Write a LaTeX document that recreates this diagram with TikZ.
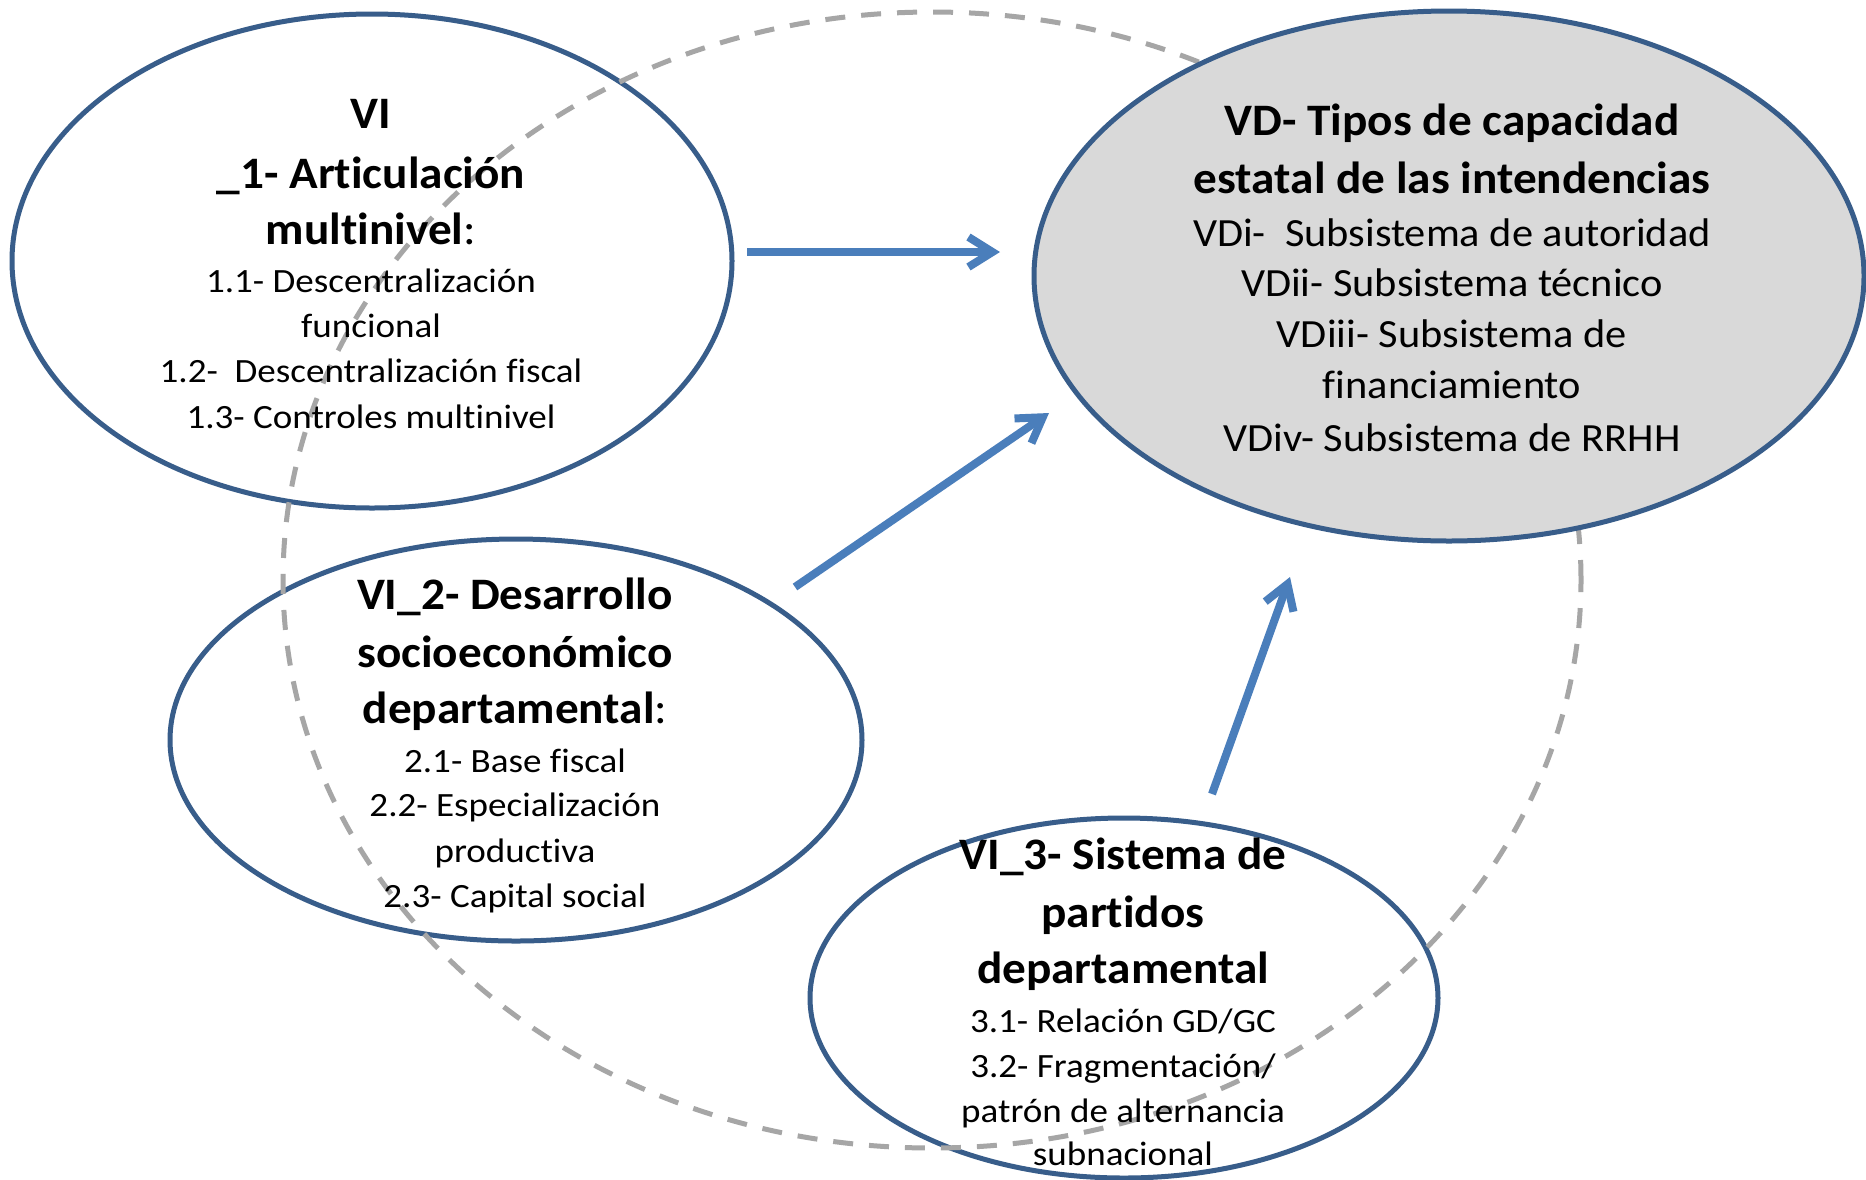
\documentclass[tikz,border=0pt]{standalone}
\usepackage{fontspec}
\setmainfont{Carlito}[Ligatures=NoCommon]
\newfontfamily\hdfont{Carlito}[FakeStretch=1.05, Ligatures=NoCommon]
\newfontfamily\rgfont{Carlito}[FakeStretch=1.09, Ligatures=NoCommon]
\newfontfamily\rgvfont{Carlito}[FakeStretch=1.06, Ligatures=NoCommon]
\usetikzlibrary{arrows.meta,shapes.geometric}
\definecolor{edgec}{HTML}{385D8A}
\definecolor{arrc}{HTML}{4A7EBB}
\definecolor{dashc}{HTML}{A6A6A6}
\definecolor{vdfill}{HTML}{D9D9D9}
\begin{document}
\begin{tikzpicture}[x=1pt,y=-1pt,
  oval/.style={ellipse, draw=edgec, line width=5pt, inner sep=0pt, outer sep=0pt},
  bigoval/.style={ellipse, draw=dashc, line width=5pt, dash pattern=on 20pt off 16pt, inner sep=0pt, outer sep=0pt},
  hd/.style={font=\hdfont\fontsize{45}{57}\selectfont\bfseries, anchor=base, inner sep=0pt},
  rg/.style={font=\rgfont\fontsize{34}{45}\selectfont, anchor=base, inner sep=0pt},
  rgv/.style={font=\rgvfont\fontsize{40}{51}\selectfont, anchor=base, inner sep=0pt},
  arrow/.style={draw=arrc, line width=8pt, -{Straight Barb[length=24pt,width=30pt]}}]
\useasboundingbox (0,0) rectangle (1866,1179);
\fill[white] (0,0) rectangle (1866,1179);
% ellipses
\node[oval, fill=white, minimum width=720pt, minimum height=494pt] (e1) at (372,261) {};
\node[oval, fill=white, minimum width=692pt, minimum height=402pt] (e2) at (516,740) {};
\node[oval, fill=white, minimum width=628pt, minimum height=360pt] (e3) at (1124,998) {};
\node[bigoval, minimum width=1298pt, minimum height=1136pt] (big) at (932,580) {};
\node[oval, fill=vdfill, minimum width=830pt, minimum height=530pt] (vd) at (1449,276) {};
% arrows
\coordinate (a1s) at (747,252);
\coordinate (a1e) at (1000,252);
\coordinate (a2s) at (795,587);
\coordinate (a2e) at (1049,413);
\coordinate (a3s) at (1212,794);
\coordinate (a3e) at (1290,577);
\draw[arrow] (a1s) -- (a1e);
\draw[arrow] (a2s) -- (a2e);
\draw[arrow] (a3s) -- (a3e);
% texts ellipse 1
\node[hd] (t1a) at (371,128) {VI};
\node[hd] (t1b) at (371,188) {\_1- Articulación};
\node[hd] (t1c) at (371,244) {multinivel{\mdseries:}};
\node[rg] (t1d) at (371,292) {1.1- Descentralización};
\node[rg] (t1e) at (371,337) {funcional};
\node[rg] (t1f) at (371,382) {1.2-\ \ Descentralización fiscal};
\node[rg] (t1g) at (371,428) {1.3- Controles multinivel};
% texts VD
\node[hd] (tva) at (1452,135) {VD- Tipos de capacidad};
\node[hd] (tvb) at (1452,193) {estatal de las intendencias};
\node[rgv] (tvc) at (1452,246) {VDi-\ \ Subsistema de autoridad};
\node[rgv] (tvd) at (1452,296) {VDii- Subsistema técnico};
\node[rgv] (tve) at (1452,347) {VDiii- Subsistema de};
\node[rgv] (tvf) at (1452,398) {financiamiento};
\node[rgv] (tvg) at (1452,451) {VDiv- Subsistema de RRHH};
% texts ellipse 2
\node[hd] (t2a) at (515,609) {VI\_2- Desarrollo};
\node[hd] (t2b) at (515,667) {socioeconómico};
\node[hd] (t2c) at (515,723) {departamental{\mdseries:}};
\node[rg] (t2d) at (515,772) {2.1- Base fiscal};
\node[rg] (t2e) at (515,816) {2.2- Especialización};
\node[rg] (t2f) at (515,862) {productiva};
\node[rg] (t2g) at (515,907) {2.3- Capital social};
% texts ellipse 3
\node[hd] (t3a) at (1123,869) {VI\_3- Sistema de};
\node[hd] (t3b) at (1123,927) {partidos};
\node[hd] (t3c) at (1123,983) {departamental};
\node[rg] (t3d) at (1123,1032) {3.1- Relación GD/GC};
\node[rg] (t3e) at (1123,1077) {3.2- Fragmentación/};
\node[rg] (t3f) at (1123,1122) {patrón de alternancia};
\node[rg] (t3g) at (1123,1165) {subnacional};
\end{tikzpicture}
\end{document}
